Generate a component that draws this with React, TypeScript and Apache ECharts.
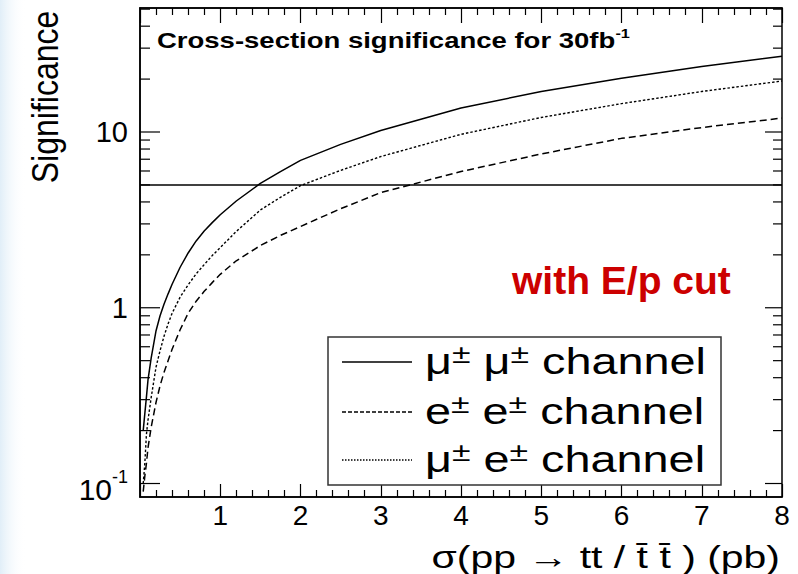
import React, { useEffect, useRef } from "react";
import * as echarts from "echarts";

// sigma(pp -> tt) in pb
const sigma = [0.04, 0.06, 0.08, 0.1, 0.14, 0.2, 0.25, 0.3, 0.35, 0.4, 0.5, 0.6, 0.7, 0.8, 0.9, 1.0, 1.2, 1.5, 1.75, 2, 2.5, 3, 4, 5, 6, 7, 8];
// significance per channel
const mumu = [0.2, 0.25, 0.31, 0.39, 0.52, 0.74, 0.9, 1.05, 1.2, 1.36, 1.7, 2.05, 2.4, 2.73, 3.05, 3.38, 4.05, 5.1, 5.95, 6.9, 8.5, 10.2, 13.7, 17.0, 20.2, 23.6, 27.0];
const ee = [0.09, 0.11, 0.13, 0.16, 0.21, 0.29, 0.36, 0.43, 0.5, 0.58, 0.75, 0.93, 1.09, 1.24, 1.39, 1.55, 1.85, 2.26, 2.58, 2.9, 3.66, 4.52, 5.96, 7.5, 9.2, 10.6, 12.0];
const mue = [0.1, 0.13, 0.19, 0.23, 0.31, 0.46, 0.57, 0.69, 0.81, 0.93, 1.15, 1.35, 1.56, 1.76, 1.98, 2.2, 2.72, 3.6, 4.25, 4.95, 6.05, 7.25, 9.7, 12.1, 14.5, 17.0, 19.5];
const threshold = 5;

const yMajorTicks = [0.1, 1, 10];
const yMinorTicks = [0.2, 0.3, 0.4, 0.5, 0.6, 0.7, 0.8, 0.9, 2, 3, 4, 5, 6, 7, 8, 9, 20, 30, 40, 50];

const FONT = "Liberation Sans";

export default function App() {
  const ref = useRef<HTMLDivElement>(null);
  useEffect(() => {
    if (!ref.current) return;
    const chart = echarts.init(ref.current, undefined, { renderer: "svg" });
    const tickData = [
      ...yMajorTicks.map((v) => [0, v, 1]),
      ...yMinorTicks.map((v) => [0, v, 0]),
    ];
    const legendRows = [
      { y: 362, dash: null as number[] | null, text: "{g|μ}{p|±} {g|μ}{p|±} channel" },
      { y: 412, dash: [4, 2], text: "{g|e}{p|±} {g|e}{p|±} channel" },
      { y: 460, dash: [1.5, 1.5], text: "{g|μ}{p|±} {g|e}{p|±} channel" },
    ];
    const legendRich = {
      g: { fontSize: 36, fontFamily: FONT, lineHeight: 40, fill: "#000" },
      p: { fontSize: 26, fontFamily: FONT, lineHeight: 26, verticalAlign: "top", fill: "#000" },
    };
    const lineCommon = { symbol: "none", showSymbol: false, smooth: false, z: 3 };
    const option: any = {
      animation: false,
      backgroundColor: "#fff",
      grid: {
        left: 140,
        top: 8,
        width: 642,
        height: 489,
        show: true,
        borderColor: "#000",
        borderWidth: 1.5,
        backgroundColor: "transparent",
      },
      xAxis: [
        {
          type: "value",
          position: "bottom",
          min: 0,
          max: 8,
          interval: 1,
          axisLine: { show: true, onZero: false, lineStyle: { color: "#000", width: 1.5 } },
          axisTick: { show: true, inside: true, length: 13, lineStyle: { color: "#000", width: 1.2 } },
          minorTick: { show: true, splitNumber: 5, length: 7, lineStyle: { color: "#000", width: 1.2 } },
          axisLabel: {
            formatter: (v: number) => (v === 0 ? "" : String(v)),
            fontSize: 28,
            fontFamily: FONT,
            color: "#000",
            margin: 4,
          },
          splitLine: { show: false },
          minorSplitLine: { show: false },
        },
        {
          type: "value",
          position: "top",
          min: 0,
          max: 8,
          interval: 1,
          axisLine: { show: true, onZero: false, lineStyle: { color: "#000", width: 1.5 } },
          axisTick: { show: true, inside: true, length: 15, lineStyle: { color: "#000", width: 1.2 } },
          minorTick: { show: true, splitNumber: 5, length: 7, lineStyle: { color: "#000", width: 1.2 } },
          axisLabel: { show: false },
          splitLine: { show: false },
          minorSplitLine: { show: false },
        },
      ],
      yAxis: {
        type: "log",
        logBase: 10,
        min: 0.0838,
        max: 50.76,
        axisLine: { show: true, onZero: false, lineStyle: { color: "#000", width: 1.5 } },
        axisTick: { show: false },
        splitLine: { show: false },
        axisLabel: {
          margin: 12,
          color: "#000",
          fontSize: 29,
          fontFamily: FONT,
          formatter: (v: number) => {
            const l = Math.log10(v);
            if (Math.abs(l - Math.round(l)) > 1e-6) return "";
            const r = Math.round(l);
            if (r === -1) return "{b|10}{s|-1}";
            if (r === 0) return "1";
            if (r === 1) return "10";
            return "";
          },
          rich: {
            b: { fontSize: 30, fontFamily: FONT, color: "#000", lineHeight: 32, padding: [12, 0, 0, 0] },
            s: { fontSize: 18, fontFamily: FONT, color: "#000", lineHeight: 18, verticalAlign: "top" },
          },
        },
      },
      series: [
        {
          ...lineCommon,
          type: "line",
          name: "μ± μ± channel",
          data: sigma.map((s, i) => [s, mumu[i]]),
          lineStyle: { color: "#000", width: 1.5, type: "solid" },
          markLine: {
            silent: true,
            symbol: "none",
            label: { show: false },
            lineStyle: { color: "#000", width: 1.5, type: "solid" },
            data: [{ yAxis: threshold }],
          },
        },
        {
          ...lineCommon,
          type: "line",
          name: "e± e± channel",
          data: sigma.map((s, i) => [s, ee[i]]),
          lineStyle: { color: "#000", width: 1.5, type: [7, 4] },
        },
        {
          ...lineCommon,
          type: "line",
          name: "μ± e± channel",
          data: sigma.map((s, i) => [s, mue[i]]),
          lineStyle: { color: "#000", width: 1.4, type: [2.5, 2] },
        },
        {
          type: "custom",
          coordinateSystem: "cartesian2d",
          silent: true,
          clip: false,
          encode: { x: 0, y: 1 },
          data: tickData,
          z: 4,
          renderItem: (params: any, api: any) => {
            const v = api.value(1);
            const major = api.value(2) === 1;
            const l = api.coord([0, v]);
            const r = api.coord([8, v]);
            const ll = major ? 20 : 10;
            const rl = major ? 17 : 9;
            return {
              type: "group",
              children: [
                { type: "line", shape: { x1: l[0], y1: l[1], x2: l[0] + ll, y2: l[1] }, style: { stroke: "#000", lineWidth: 1.2 } },
                { type: "line", shape: { x1: r[0] - rl, y1: r[1], x2: r[0], y2: r[1] }, style: { stroke: "#000", lineWidth: 1.2 } },
              ],
            };
          },
        },
      ],
      graphic: [
        {
          type: "rect",
          silent: true,
          z: -10,
          shape: { x: 0, y: 0, width: 26, height: 574 },
          style: {
            fill: new echarts.graphic.LinearGradient(0, 0, 1, 0, [
              { offset: 0, color: "rgba(200,224,242,0.55)" },
              { offset: 1, color: "rgba(255,255,255,0)" },
            ]),
          },
        },
        {
          type: "text",
          x: 45,
          y: 97,
          rotation: Math.PI / 2,
          scaleY: 1.18,
          style: {
            text: "Significance",
            fontSize: 32,
            fontFamily: FONT,
            fill: "#000",
            align: "center",
            verticalAlign: "middle",
          },
        },
        {
          type: "text",
          x: 157,
          y: 40,
          scaleX: 1.25,
          style: {
            text: "{t|Cross-section significance for 30fb}{s|-1}",
            align: "left",
            verticalAlign: "middle",
            rich: {
              t: { fontSize: 22, fontWeight: "bold", fontFamily: FONT, lineHeight: 26, fill: "#000" },
              s: { fontSize: 13, fontWeight: "bold", fontFamily: FONT, lineHeight: 14, verticalAlign: "top", fill: "#000" },
            },
          },
        },
        {
          type: "text",
          x: 512,
          y: 280,
          style: {
            text: "with E/p cut",
            fontSize: 39,
            fontWeight: "bold",
            fontFamily: FONT,
            fill: "#cc0000",
            align: "left",
            verticalAlign: "middle",
          },
        },
        {
          type: "text",
          x: 780,
          y: 557,
          scaleX: 1.28,
          style: {
            text: "σ(pp → tt / t\u0304 t\u0304 ) (pb)",
            fontSize: 32,
            fontFamily: FONT,
            fill: "#000",
            align: "right",
            verticalAlign: "middle",
          },
        },
        {
          type: "rect",
          z: 10,
          shape: { x: 328, y: 337, width: 393, height: 148 },
          style: { fill: "#fff", stroke: "#333", lineWidth: 1.5 },
        },
        ...legendRows.map((row) => ({
          type: "line",
          z: 11,
          shape: { x1: 342, y1: row.y, x2: 412, y2: row.y },
          style: { stroke: "#000", lineWidth: 1.3, lineDash: row.dash || undefined },
        })),
        ...legendRows.map((row) => ({
          type: "text",
          z: 11,
          x: 425,
          y: row.y - 1,
          scaleX: 1.3,
          style: {
            text: row.text,
            fontSize: 36,
            fontFamily: FONT,
            fill: "#000",
            align: "left",
            verticalAlign: "middle",
            rich: legendRich,
          },
        })),
      ],
    };
    chart.setOption(option);
    return () => chart.dispose();
  }, []);
  return (
    <div
      ref={ref}
      style={{ position: "absolute", left: 0, top: 0, width: 798, height: 574, background: "#fff" }}
    />
  );
}
